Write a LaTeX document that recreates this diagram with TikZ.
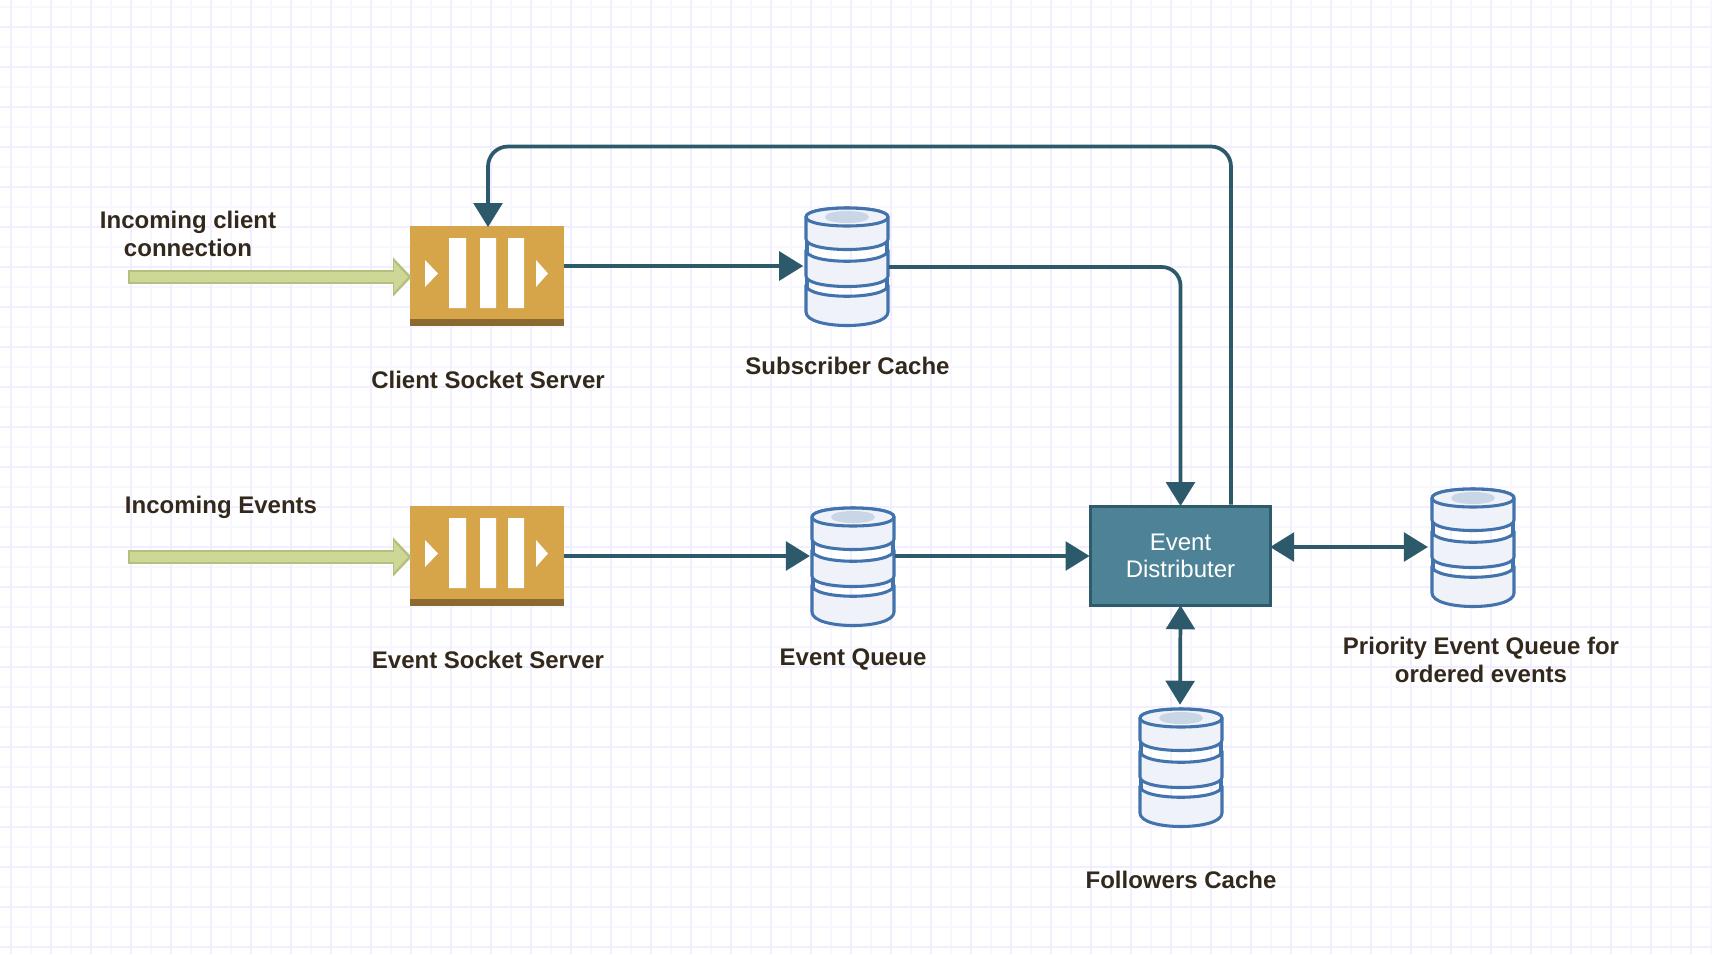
\documentclass[tikz,border=0pt]{standalone}
\usepackage{fontspec}
\setmainfont{Liberation Sans}
\usetikzlibrary{arrows.meta,calc}
\definecolor{gridmajor}{HTML}{F0EEFF}
\definecolor{gridminor}{HTML}{F8F7FF}
\definecolor{queuefill}{HTML}{D6A549}
\definecolor{queueband}{HTML}{8A6A2F}
\definecolor{boxfill}{HTML}{4E8296}
\definecolor{boxline}{HTML}{2F5A6A}
\definecolor{conncolor}{HTML}{2C5A6B}
\definecolor{dbline}{HTML}{4373AC}
\definecolor{dbfill}{HTML}{EFF3F9}
\definecolor{dbinner}{HTML}{C9D6E6}
\definecolor{fatline}{HTML}{B4C17E}
\definecolor{fatfill}{HTML}{CFD796}
\definecolor{labelcolor}{HTML}{33281C}
\tikzset{
  x=0.75pt,y=-0.75pt,
  conn/.style={draw=conncolor,line width=2.8pt},
  headend/.style={-{Triangle[length=18pt,width=21.5pt]}},
  headboth/.style={{Triangle[length=18pt,width=21.5pt]}-{Triangle[length=18pt,width=21.5pt]}},
  fatouter/.style={draw=fatline,line width=10.5pt,shorten >=-1.5pt,-{Triangle[length=14pt,width=28.5pt]}},
  fatinner/.style={draw=fatfill,line width=7pt,shorten <=1.5pt,shorten >=1.3pt,-{Triangle[length=10.5pt,width=22pt]}},
  queuebox/.style={draw=none,fill=queuefill,minimum width=115.5pt,minimum height=75pt,inner sep=0pt},
  dbbox/.style={draw=none,minimum width=62.25pt,minimum height=90pt,inner sep=0pt},
  distbox/.style={draw=boxline,fill=boxfill,line width=2.4pt,minimum width=135pt,minimum height=74.5pt,inner sep=0pt,
    text=white,align=center,font=\fontsize{18pt}{20.6pt}\selectfont},
  lbl/.style={text=labelcolor,align=center,inner sep=0pt,font=\fontsize{18pt}{21.4pt}\selectfont\bfseries},
  dbsec/.style={draw=dbline,fill=dbfill,line width=2.3pt,line join=round},
}
\newcommand{\qshape}[2]{%
  \begin{scope}[shift={(#1,#2)}]
    \fill[queueband] (0,93) rectangle (154,100);
    \fill[white] (39,12) rectangle (56,82) (70,12) rectangle (86,82) (98,12) rectangle (114,82);
    \fill[white] (15,34) -- (28,47.5) -- (15,61) -- cycle;
    \fill[white] (126,34) -- (138,47.5) -- (126,61) -- cycle;
  \end{scope}}
\newcommand{\dbshape}[2]{%
  \begin{scope}[shift={(#1,#2)}]
    \draw[dbsec] (-41,77) -- (-41,104) .. controls (-41,122) and (41,122) .. (41,104) -- (41,77)
      .. controls (41,92) and (-41,92) .. (-41,77) -- cycle;
    \draw[dbline,line width=2.3pt] (-40,68) -- (-40,79) (40,68) -- (40,79);
    \draw[dbsec] (-41,42) -- (-41,68) .. controls (-41,82) and (41,82) .. (41,68) -- (41,42)
      .. controls (41,57) and (-41,57) .. (-41,42) -- cycle;
    \draw[dbline,line width=2.3pt] (-40,31) -- (-40,44) (40,31) -- (40,44);
    \draw[dbsec] (-41,9) -- (-41,31) .. controls (-41,45) and (41,45) .. (41,31) -- (41,9)
      .. controls (41,-3) and (-41,-3) .. (-41,9) -- cycle;
    \draw[dbsec] (-41,9) .. controls (-41,-3) and (41,-3) .. (41,9)
      .. controls (41,21) and (-41,21) .. (-41,9) -- cycle;
    \fill[dbinner] (-22,9) .. controls (-22,1) and (22,1) .. (22,9)
      .. controls (22,17) and (-22,17) .. (-22,9) -- cycle;
  \end{scope}}
\begin{document}
\begin{tikzpicture}
\useasboundingbox (0,0) rectangle (1712,954);
\fill[white] (0,0) rectangle (1712,954);
\foreach \gx in {30.5,70.5,...,1712} \draw[gridminor,line width=1.5pt] (\gx,0) -- (\gx,954);
\foreach \gy in {6.5,46.5,...,954} \draw[gridminor,line width=1.5pt] (0,\gy) -- (1712,\gy);
\foreach \gx in {10.5,50.5,...,1712} \draw[gridmajor,line width=1.5pt] (\gx,0) -- (\gx,954);
\foreach \gy in {26.5,66.5,...,954} \draw[gridmajor,line width=1.5pt] (0,\gy) -- (1712,\gy);

% nodes
\node[queuebox] (q1) at (487,276) {};
\qshape{410}{226}
\node[queuebox] (q2) at (487,556) {};
\qshape{410}{506}

\node[dbbox] (db1) at (847,266) {};
\dbshape{847}{208}
\node[dbbox] (db2) at (853,568) {};
\dbshape{853}{508}
\node[dbbox] (db3) at (1473,547) {};
\dbshape{1473}{489}
\node[dbbox] (db4) at (1180,769) {};
\dbshape{1181}{709}

\node[distbox] (box) at (1180.5,556) {Event\\Distributer};

% labels
\node[lbl] (l1) at (188,234) {Incoming client\\connection};
\node[lbl] (l2) at (221,507.5) {Incoming Events};
\node[lbl] (l3) at (488,380) {Client Socket Server};
\node[lbl] (l4) at (847.5,366) {Subscriber Cache};
\node[lbl] (l5) at (488,660) {Event Socket Server};
\node[lbl] (l6) at (853,659.5) {Event Queue};
\node[lbl] (l7) at (1481,660) {Priority Event Queue for\\ordered events};
\node[lbl] (l8) at (1181,880) {Followers Cache};

% free ends
\coordinate (in1) at (128,277);
\coordinate (in2) at (128,557);
\coordinate (loop) at (1231,146.5);
\coordinate (qtop) at ($(q1.north)+(1,0)$);
\coordinate (dbout) at ($(db1.east)+(0,1)$);

% fat input arrows
\draw[fatouter] (in1) -- (q1.west |- in1);
\draw[fatinner] (in1) -- (q1.west |- in1);
\draw[fatouter] (in2) -- (q2.west |- in2);
\draw[fatinner] (in2) -- (q2.west |- in2);

% connectors
\draw[conn,headend,shorten >=1.5pt] (q1.east |- db1.west) -- (db1.west);
\draw[conn,headend,rounded corners=14pt,shorten >=-1pt] (dbout) -| (box.north);
\draw[conn,headend,rounded corners=15pt,shorten >=-1pt] (loop |- box.north) -- (loop) -- (loop -| qtop) -- (qtop);
\draw[conn,headend,shorten >=1pt] (q2.east) -- (db2.west |- q2.east);
\draw[conn,headend,shorten >=-0.5pt] (db2.east |- box.west) -- (box.west);
\draw[conn,headboth,shorten <=-1.5pt,shorten >=2.5pt] (box.east |- db3.west) -- (db3.west);
\draw[conn,headboth,shorten <=-1.5pt,shorten >=3pt] (box.south) -- (db4.north);
\end{tikzpicture}
\end{document}
